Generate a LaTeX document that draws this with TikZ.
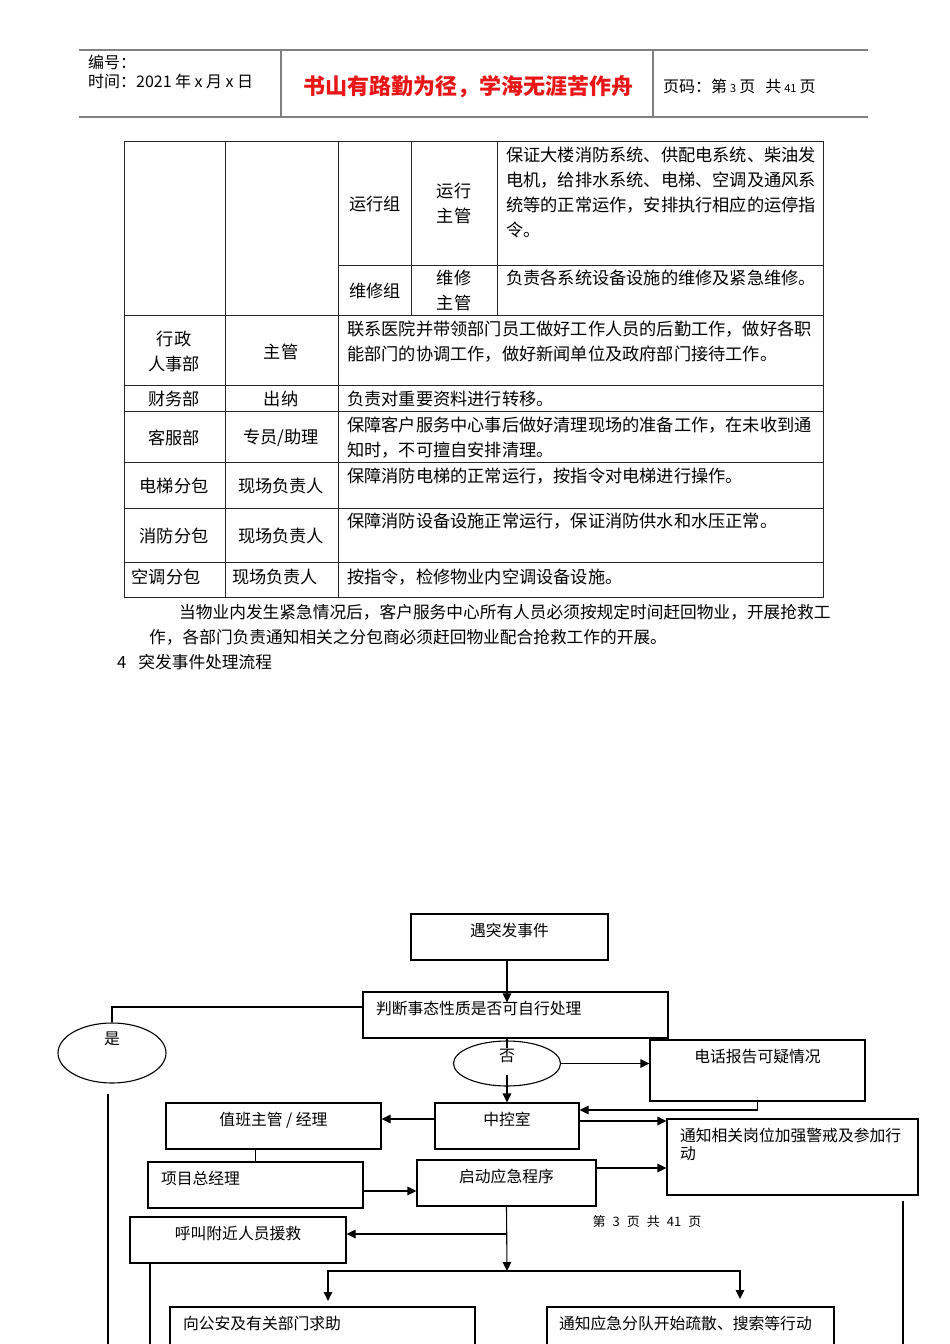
\documentclass[tikz,border=0pt]{standalone}
\usepackage{fontspec}
\setmainfont{Noto Sans CJK SC}
\usetikzlibrary{shapes.geometric,arrows.meta}

\definecolor{headrule}{gray}{0.5}
\definecolor{mottored}{RGB}{232,22,22}
\newcommand\widegap{\spaceskip=7pt\relax}
\newcommand\dategap{\spaceskip=3.5pt\relax}
\newcommand\smalldigits[1]{\hspace{3pt}{\fontsize{11}{11}\selectfont #1}\hspace{3pt}}

\tikzset{
  cell/.style={inner sep=0pt,align=center,font=\fontsize{17.2}{25}\selectfont},
  desc/.style={inner sep=0pt,anchor=west,align=left,font=\fontsize{17.2}{25}\selectfont},
  para/.style={inner sep=0pt,anchor=west,font=\fontsize{16.7}{25}\selectfont},
  tablerule/.style={line width=0.9pt,black!85},
  flowbox/.style={draw,line width=1.1pt,inner sep=0pt,minimum height=46pt,
    text height=14pt,text depth=16pt,font=\fontsize{15.8}{18}\selectfont},
  oval/.style={ellipse,draw,line width=1.1pt,inner sep=0pt,text height=10pt,
    font=\fontsize{15.8}{18}\selectfont},
  arr/.style={line width=1.1pt,-{Triangle[length=9pt,width=8.5pt]}},
  link/.style={line width=1.1pt},
}

\begin{document}
\begin{tikzpicture}[x=1pt,y=-1pt]
  \useasboundingbox (0,0) rectangle (950,1344);
  \clip (0,0) rectangle (950,1344);
  \fill[white] (0,0) rectangle (950,1344);

  % page header
  \draw[headrule,line width=1.3pt] (79,50) -- (868,50);
  \draw[headrule,line width=1.3pt] (79,117) -- (868,117);
  \draw[headrule,line width=1.1pt] (281,50) -- (281,117);
  \draw[headrule,line width=1.1pt] (653,50) -- (653,117);
  \node[inner sep=0pt,anchor=west,font=\fontsize{16}{16}\selectfont] (serial) at (88,62) {编号：};
  \node[inner sep=0pt,anchor=west,font=\fontsize{16}{16}\selectfont] (date) at (88,81) {\dategap 时间：2021 年 x 月 x 日};
  \node[inner sep=0pt,text=mottored,font=\fontsize{22}{22}\selectfont\bfseries] (motto) at (468,87) {书山有路勤为径，学海无涯苦作舟};
  \node[inner sep=0pt,anchor=west,font=\fontsize{16}{16}\selectfont] (pagehead) at (663,86)
    {页码：第\smalldigits{3}页\hspace{10pt}共\smalldigits{41}页};

  % table grid
  \draw[tablerule] (124,141) rectangle (823,597);
  \foreach \y in {315,385,411,462,508,562}
    \draw[tablerule] (124,\y) -- (823,\y);
  \draw[tablerule] (338,265) -- (823,265);
  \foreach \x in {225,338}
    \draw[tablerule] (\x,141) -- (\x,597);
  \foreach \x in {411,497}
    \draw[tablerule] (\x,141) -- (\x,315);

  % table cells
  \node[cell] (opsgroup) at (375,204) {运行组};
  \node[cell] (opslead) at (454,203.5) {运行\\主管};
  \node[desc] (opsdesc) at (506,192.5) {保证大楼消防系统、供配电系统、柴油发\\电机，给排水系统、电梯、空调及通风系\\统等的正常运作，安排执行相应的运停指\\令。};
  \node[cell] (fixgroup) at (375,291) {维修组};
  \node[cell] (fixlead) at (454,290.5) {维修\\主管};
  \node[desc] (fixdesc) at (506,278) {负责各系统设备设施的维修及紧急维修。};

  \node[cell] (admin) at (174,351.5) {行政\\人事部};
  \node[cell] (adminlead) at (281,352) {主管};
  \node[desc] (admindesc) at (347,341.5) {联系医院并带领部门员工做好工作人员的后勤工作，做好各职\\能部门的协调工作，做好新闻单位及政府部门接待工作。};
  \node[cell] (finance) at (174,399) {财务部};
  \node[cell] (cashier) at (281,399) {出纳};
  \node[desc] (financedesc) at (347,399) {负责对重要资料进行转移。};
  \node[cell] (service) at (174,438) {客服部};
  \node[cell] (servicelead) at (281,438) {专员/助理};
  \node[desc] (servicedesc) at (347,437.5) {保障客户服务中心事后做好清理现场的准备工作，在未收到通\\知时，不可擅自安排清理。};
  \node[cell] (lift) at (174,486) {电梯分包};
  \node[cell] (liftlead) at (281,486) {现场负责人};
  \node[desc] (liftdesc) at (347,476) {保障消防电梯的正常运行，按指令对电梯进行操作。};
  \node[cell] (fire) at (174,536) {消防分包};
  \node[cell] (firelead) at (281,536) {现场负责人};
  \node[desc] (firedesc) at (347,521) {保障消防设备设施正常运行，保证消防供水和水压正常。};
  \node[cell] (hvac) at (166,577) {空调分包};
  \node[cell] (hvaclead) at (275,577) {现场负责人};
  \node[desc] (hvacdesc) at (347,577) {按指令，检修物业内空调设备设施。};

  % text below the table
  \node[para] (para1) at (179,612) {当物业内发生紧急情况后，客户服务中心所有人员必须按规定时间赶回物业，开展抢救工};
  \node[para] (para2) at (149,637) {作，各部门负责通知相关之分包商必须赶回物业配合抢救工作的开展。};
  \node[para] (heading) at (117,662) {4\hspace{12pt}突发事件处理流程};

  % flow chart
  \node[flowbox,minimum width=197pt] (event) at (509.5,937) {遇突发事件};
  \node[flowbox,minimum width=305pt,text width=279pt,align=left] (judge) at (515.5,1015) {判断事态性质是否可自行处理};
  \node[oval,minimum width=108pt,minimum height=60pt,text depth=28pt] (yes) at (112,1053) {是};
  \node[oval,minimum width=107pt,minimum height=45pt,text depth=15pt] (no) at (507,1063.5) {否};
  \node[flowbox,minimum width=215pt,minimum height=61pt,text depth=31pt] (phone) at (757.5,1070.5) {电话报告可疑情况};
  \node[flowbox,minimum width=144pt] (ctrl) at (507,1126) {中控室};
  \node[flowbox,minimum width=215pt] (duty) at (273.5,1126) {值班主管 / 经理};
  \node[flowbox,minimum width=251pt,minimum height=76pt,text depth=46pt,text width=225pt,align=left] (notify) at (792.5,1157) {通知相关岗位加强警戒及参加行\\动};
  \node[flowbox,minimum width=215pt,text width=189pt,align=left] (gm) at (255.5,1185) {项目总经理};
  \node[flowbox,minimum width=179pt] (start) at (506.5,1183) {启动应急程序};
  \node[flowbox,minimum width=216pt] (call) at (238,1240) {呼叫附近人员援救};
  \node[flowbox,minimum width=305pt,minimum height=60pt,text depth=30pt,text width=279pt,align=left] (police) at (322.5,1337) {向公安及有关部门求助};
  \node[flowbox,minimum width=287pt,minimum height=60pt,text depth=30pt,text width=263pt,align=left] (evac) at (690.5,1337) {通知应急分队开始疏散、搜索等行动};
  \node[inner sep=0pt,font=\fontsize{13}{13}\selectfont] (pageno) at (647,1222) {\widegap 第 3 页 共 41 页};

  \coordinate (split) at (507,1271);
  \coordinate (policetip) at (328,1301);
  \coordinate (evactip) at (740,1299);
  \coordinate (yesend) at (108,1344);
  \coordinate (callend) at (150,1344);
  \coordinate (notifyend) at (903,1344);

  \draw[arr] (event.south -| ctrl.north) -- ([yshift=-11pt]judge.north -| ctrl.north);
  \draw[link] ([yshift=8pt]judge.west) -| (yes.north);
  \draw[link] ([yshift=-10pt]yes.south -| yesend) -- (yesend);
  \draw[link] (judge.south -| no.north) -- ([yshift=-8pt]no.north);
  \draw[arr] ([yshift=12pt]no.south) -- (ctrl.north);
  \draw[arr] (no.east) -- (no.east -| phone.west);
  \draw[arr] (phone.south) |- ([yshift=16pt]ctrl.east);
  \draw[arr] ([yshift=7pt]ctrl.west) -- ([yshift=7pt]ctrl.west -| duty.east);
  \draw[arr] ([yshift=5pt]ctrl.east) -- ([yshift=5pt]ctrl.east -| notify.west);
  \draw[link] (gm.north |- duty.south) -- (gm.north);
  \draw[arr] ([yshift=-6pt]gm.east) -- ([yshift=-6pt]gm.east -| start.west);
  \draw[arr] ([yshift=15pt]start.east) -- ([yshift=15pt]start.east -| notify.west);
  \draw[arr] (start.south) -- (split);
  \draw[arr] ([yshift=6pt]call.east -| start.south) -- ([yshift=6pt]call.east);
  \draw[arr] (split) -| (policetip);
  \draw[arr] (split) -| (evactip);
  \draw[link] (call.south -| callend) -- (callend);
  \draw[link] ([yshift=-5pt]notify.south -| notifyend) -- (notifyend);
\end{tikzpicture}
\end{document}
